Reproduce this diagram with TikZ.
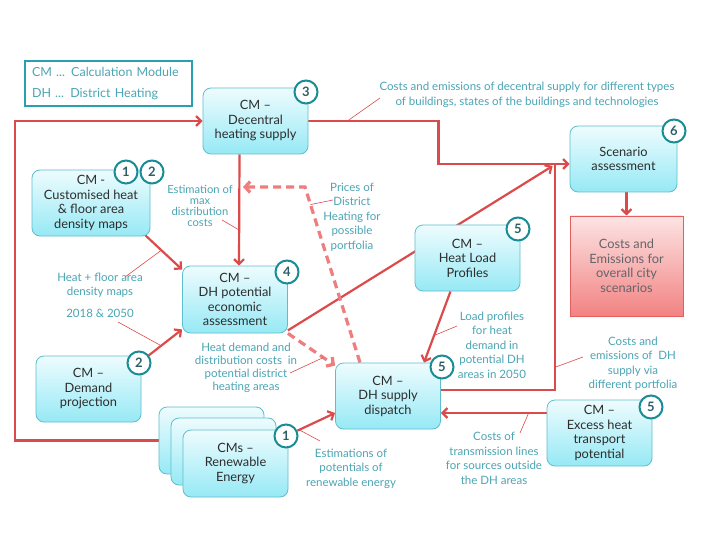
\documentclass[tikz,border=0pt]{standalone}
\usepackage{fontspec}
\setmainfont{Lato}
\usetikzlibrary{arrows.meta, positioning, backgrounds}
\definecolor{boxtop}{RGB}{238,252,254}
\definecolor{boxbot}{RGB}{150,233,245}
\definecolor{boxedge}{RGB}{95,190,205}
\definecolor{boxtext}{RGB}{45,45,45}
\definecolor{badgeedge}{RGB}{25,140,150}
\definecolor{badgetext}{RGB}{45,95,105}
\definecolor{lbltext}{RGB}{75,165,180}
\definecolor{legedge}{RGB}{40,160,175}
\definecolor{flowred}{RGB}{220,75,75}
\definecolor{dashred}{RGB}{240,125,125}
\definecolor{restop}{RGB}{253,228,228}
\definecolor{resbot}{RGB}{242,130,130}
\definecolor{resedge}{RGB}{225,95,95}
\definecolor{restext}{RGB}{100,100,105}

\begin{document}
\begin{tikzpicture}[x=1pt, y=-1pt,
	cmbox/.style={draw=boxedge, line width=0.8pt, rounded corners=8pt,
		top color=boxtop, bottom color=boxbot, minimum width=105pt,
		minimum height=66pt, align=center, text=boxtext,
		font=\fontsize{12.8}{14.5}\selectfont},
	resbox/.style={draw=resedge, line width=0.8pt, top color=restop,
		bottom color=resbot, minimum width=113pt, minimum height=100pt,
		align=center, text=restext, font=\fontsize{12.8}{14.5}\selectfont},
	badge/.style={circle, draw=badgeedge, line width=2pt, fill=white,
		minimum size=23pt, inner sep=0pt, text=badgetext,
		font=\fontsize{13}{13}\selectfont\bfseries},
	lbl/.style={text=lbltext, align=center, inner sep=0pt,
		font=\fontsize{11.5}{14.5}\selectfont},
	flow/.style={draw=flowred, line width=2.2pt,
		-{Straight Barb[length=5pt,width=10pt]}},
	dflow/.style={draw=dashred, line width=3.2pt, dash pattern=on 8pt off 5pt,
		-{Straight Barb[length=5pt,width=11pt]}},
	leader/.style={draw=flowred, line width=0.6pt}
	]
\useasboundingbox (0,0) rectangle (720,540);

\node[draw=legedge, line width=1.2pt, minimum width=167pt, minimum height=45pt,
	text width=153pt, align=left, text=lbltext,
	font=\fontsize{12.5}{21}\selectfont] (leg) at (108.5,83.5)
	{CM ... Calculation Module\\DH ... District Heating};

\node[cmbox] (dec) at (255.5,121) {CM --\\Decentral\\heating supply};
\node[cmbox, minimum width=118pt] (cust) at (91,203) {CM -\\Customised heat\\\& floor area\\density maps};
\node[cmbox, minimum height=67pt] (pot) at (235,299.5) {CM --\\DH potential\\economic\\assessment};
\node[cmbox] (dem) at (88.5,389) {CM --\\Demand\\projection};
\node[cmbox, minimum height=67pt] (re1) at (211.5,440.5) {};
\node[cmbox, minimum height=67pt] (re2) at (223.5,451.5) {};
\node[cmbox, minimum height=67pt] (re3) at (235.5,463.5) {CMs --\\Renewable\\Energy};
\node[cmbox] (dhs) at (388,396) {CM --\\DH supply\\dispatch};
\node[cmbox] (hlp) at (467.5,258) {CM --\\Heat Load\\Profiles};
\node[cmbox, minimum width=107pt] (scen) at (623.5,159) {Scenario\\assessment};
\node[resbox] (out) at (626.5,266) {Costs and\\Emissions for\\overall city\\scenarios};
\node[cmbox] (exc) at (599.5,433) {CM --\\Excess heat\\transport\\potential};

\node[badge] (b3) at (306,92) {3};
\node[badge] (b1a) at (126,172) {1};
\node[badge] (b2a) at (152,172) {2};
\node[badge] (b4) at (287,272) {4};
\node[badge] (b2b) at (139,363) {2};
\node[badge] (b1b) at (286,436) {1};
\node[badge] (b5a) at (442,367) {5};
\node[badge] (b5b) at (518,229) {5};
\node[badge] (b6) at (674,131) {6};
\node[badge] (b5c) at (651,407) {5};

\node[lbl] (ldec) at (527,95) {Costs and emissions of decentral supply for different types\\of buildings, states of the buildings and technologies};
\node[lbl, font=\fontsize{11.2}{10.8}\selectfont] (lest) at (200,206) {Estimation of\\max\\distribution\\costs};
\node[lbl] (lpri) at (352,217) {Prices of\\District\\Heating for\\possible\\portfolia};
\node[lbl, font=\fontsize{11.5}{14}\selectfont] (lmap) at (100,285) {Heat + floor area\\density maps};
\node[lbl] (lyr) at (100,313) {2018 \& 2050};
\node[lbl, font=\fontsize{11.5}{13}\selectfont] (lhd) at (246,367.5) {Heat demand and\\distribution costs\ \ in\\potential district\\heating areas};
\node[lbl] (lld) at (492,345) {Load profiles\\for heat\\demand in\\potential DH\\areas in 2050};
\node[lbl] (ldhc) at (633,363.5) {Costs and\\emissions of\ \ DH\\supply via\\different portfolia};
\node[lbl] (ltr) at (494,458.5) {Costs of\\transmission lines\\for sources outside\\the DH areas};
\node[lbl] (lren) at (351,468.5) {Estimations of\\potentials of\\renewable energy};

\coordinate (lc) at (15,121);
\coordinate (pc) at (305,187);
\coordinate (dtip) at (243,187);
\coordinate (la) at (380,98);
\coordinate (lb) at (222,220);
\coordinate (lp) at (333,200);
\coordinate (ld) at (125,277);
\coordinate (le) at (118,322);
\coordinate (lf) at (290,373);
\coordinate (lg) at (457,326);
\coordinate (lh) at (583,357);
\coordinate (li) at (520,433);
\coordinate (lj) at (320,441);

\begin{scope}[on background layer]
\fill[white] (0,0) rectangle (720,540);
\draw[flow] (re1.west) -| (lc) -- (dec.west);
\draw[flow] (dec.east) -- coordinate[pos=0.3] (m1) ++(130,0) |- ([yshift=-5pt]scen.west);
\draw[flow] ([xshift=-16pt]dec.south) -- coordinate[pos=0.68] (m2) ([xshift=4pt]pot.north);
\draw[flow] ([shift={(-6pt,2pt)}]cust.south east) -- coordinate[pos=0.45] (m3) ([yshift=-4pt]pot.north west);
\draw[flow] (b2b) -- coordinate[pos=0.37] (m4) ([yshift=4pt]pot.south west);
\draw[flow] ([yshift=3pt]pot.south east) -- ([shift={(-17pt,-7pt)}]scen.west);
\draw[dflow] (pot.south east) -- coordinate[pos=0.75] (m5) ([yshift=-3pt]dhs.north west);
\draw[dflow] ([xshift=-28pt]dhs.north) -- coordinate[pos=0.9] (m6) (pc) -- (dtip);
\draw[flow] ([xshift=-17pt]hlp.south) -- coordinate[pos=0.62] (m7) ([xshift=36pt]dhs.north);
\draw[draw=flowred, line width=2.2pt] ([yshift=6pt]dhs.east) -| coordinate[pos=0.55] (m8) ([shift={(-15pt,-5pt)}]scen.west);
\draw[flow] (scen.south -| out.north) -- (out.north);
\draw[flow] ([yshift=20pt]exc.west) -- coordinate[pos=0.17] (m9) ([yshift=20pt]exc.west -| dhs.east);
\draw[flow] (b1b) -- coordinate[pos=0.05] (m10) ([yshift=-17pt]dhs.west);

\draw[leader] (la) -- (m1);
\draw[leader] (lb) -- (m2);
\draw[leader] (lp) -- (m6);
\draw[leader] (ld) -- (m3);
\draw[leader] (le) -- (m4);
\draw[leader] (lf) -- (m5);
\draw[leader] (lg) -- (m7);
\draw[leader] (lh) -- (m8);
\draw[leader] (li) -- (m9);
\draw[leader] (lj) -- (m10);
\end{scope}
\end{tikzpicture}
\end{document}
